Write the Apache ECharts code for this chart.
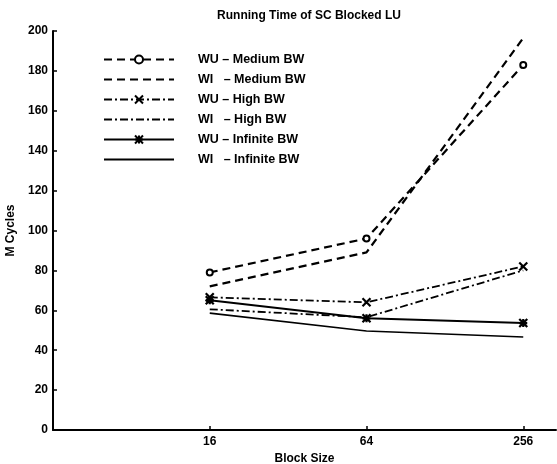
<!DOCTYPE html>
<html>
<head>
<meta charset="utf-8">
<script src="https://cdn.jsdelivr.net/npm/echarts@6/dist/echarts.min.js"></script>
<style>
  html, body { margin: 0; padding: 0; background: #fff; }
  #chart { width: 557px; height: 464px; }
</style>
</head>
<body>
<div id="chart"></div>
<script>
const blockSizes = [16, 64, 256]
const yTicks = [0, 20, 40, 60, 80, 100, 120, 140, 160, 180, 200]

const wuMedium = [79, 96, 183]
const wiMedium = [72, 89, 196.5]
const wuHigh = [66.5, 64, 82]
const wiHigh = [60.5, 56.5, 80]
const wuInfinite = [65, 56, 53.6]
const wiInfinite = [58.6, 49.6, 46.6]

const seriesNames = [
  'WU \u2013 Medium BW',
  'WI   \u2013 Medium BW',
  'WU \u2013 High BW',
  'WI   \u2013 High BW',
  'WU \u2013 Infinite BW',
  'WI   \u2013 Infinite BW',
]

const FONT = 'Liberation Sans'
const crossPath = 'path://M0,0L10,10M10,0L0,10'
const starPath = 'path://M0,0L10,10M10,0L0,10M5,0L5,10M0,5L10,5'

function pairs(values) {
  return blockSizes.map((b, i) => [b, values[i]])
}

function makeSeries(name, values, lineType, width, symbol, symbolSize) {
  return {
    name,
    type: 'line',
    data: pairs(values),
    showSymbol: !!symbol,
    symbol: symbol || 'none',
    symbolSize: symbolSize || 0,
    lineStyle: { color: '#000', width, type: lineType },
    itemStyle: symbol === 'circle'
      ? { color: '#fff', borderColor: '#000', borderWidth: 2 }
      : { color: '#000', borderColor: '#000', borderWidth: 2.2 },
    emphasis: { disabled: true },
    animation: false,
    z: 3,
  }
}

// WI entries have no marker in the legend
const legendData = seriesNames.map((name, i) =>
  i % 2 === 1 ? { name, itemStyle: { opacity: 0 } } : { name },
)

const chart = echarts.init(document.getElementById('chart'))

chart.setOption({
  backgroundColor: '#fff',
  textStyle: { fontFamily: FONT },
  title: {
    text: 'Running Time of SC Blocked LU',
    left: 304,
    top: 5,
    textAlign: 'center',
    textStyle: { fontFamily: FONT, fontSize: 12, fontWeight: 'bold', color: '#000' },
  },
  grid: { left: 53, right: 1, top: 31, bottom: 34, containLabel: false, outerBoundsMode: 'none' },
  legend: {
    orient: 'vertical',
    left: 98,
    top: 48,
    padding: 5,
    itemWidth: 70,
    itemHeight: 10,
    itemGap: 7,
    data: legendData,
    textStyle: { fontFamily: FONT, fontSize: 12.5, fontWeight: 'bold', color: '#000', padding: [0, 0, 0, 19] },
    selectedMode: false,
  },
  xAxis: {
    type: 'log',
    logBase: 2,
    min: 4,
    max: 342,
    name: 'Block Size',
    nameLocation: 'middle',
    nameGap: 21,
    nameTextStyle: { fontFamily: FONT, fontSize: 12, fontWeight: 'bold', color: '#000' },
    axisLine: { lineStyle: { color: '#000', width: 2 } },
    axisTick: { inside: true, length: 4, customValues: blockSizes, lineStyle: { color: '#000', width: 1.5 } },
    axisLabel: {
      customValues: blockSizes,
      color: '#000',
      fontFamily: FONT,
      fontSize: 12,
      fontWeight: 'bold',
      margin: 6,
    },
    splitLine: { show: false },
    minorTick: { show: false },
  },
  yAxis: {
    type: 'value',
    min: yTicks[0],
    max: yTicks[yTicks.length - 1],
    interval: 20,
    name: 'M Cycles',
    nameLocation: 'middle',
    nameGap: 28,
    nameTextStyle: { fontFamily: FONT, fontSize: 12, fontWeight: 'bold', color: '#000' },
    axisLine: { show: true, lineStyle: { color: '#000', width: 2 } },
    axisTick: { show: true, inside: true, length: 4, lineStyle: { color: '#000', width: 1.5 } },
    axisLabel: { color: '#000', fontFamily: FONT, fontSize: 12, fontWeight: 'bold', margin: 5 },
    splitLine: { show: false },
  },
  series: [
    makeSeries(seriesNames[0], wuMedium, [8, 5], 2.2, 'circle', 6),
    makeSeries(seriesNames[1], wiMedium, [8, 5], 2.2),
    makeSeries(seriesNames[2], wuHigh, [8, 3, 2, 3], 1.8, crossPath, 8),
    makeSeries(seriesNames[3], wiHigh, [8, 3, 2, 3], 1.8),
    makeSeries(seriesNames[4], wuInfinite, 'solid', 2, starPath, 8),
    makeSeries(seriesNames[5], wiInfinite, 'solid', 1.6),
  ],
})
</script>
</body>
</html>
